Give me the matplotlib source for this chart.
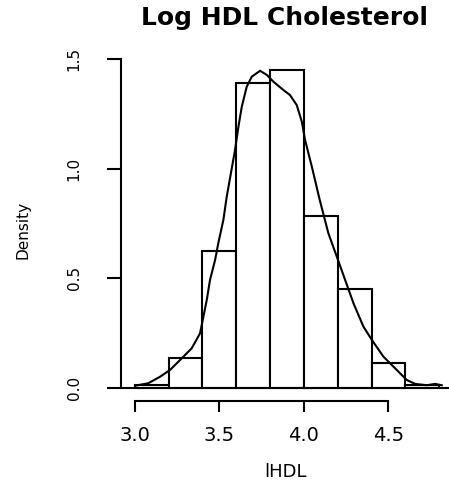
import numpy as np
import matplotlib
matplotlib.use("Agg")
import matplotlib.pyplot as plt

# histogram of log HDL (density scale), bins of width 0.2
bin_edges = [3.0, 3.2, 3.4, 3.6, 3.8, 4.0, 4.2, 4.4, 4.6, 4.8]
bin_density = [0.012, 0.134, 0.626, 1.393, 1.451, 0.783, 0.452, 0.114, 0.012]

# kernel density curve
kde_x = [3.002, 3.080, 3.150, 3.209, 3.278, 3.337, 3.386, 3.402, 3.426, 3.445,
         3.475, 3.494, 3.524, 3.544, 3.593, 3.613, 3.633, 3.662, 3.692, 3.741,
         3.781, 3.820, 3.879, 3.918, 3.958, 3.988, 4.007, 4.047, 4.094, 4.145,
         4.195, 4.244, 4.293, 4.352, 4.402, 4.470, 4.549, 4.608, 4.658, 4.727,
         4.776, 4.815]
kde_y = [0.009, 0.020, 0.050, 0.081, 0.134, 0.180, 0.248, 0.309, 0.401, 0.492,
         0.583, 0.660, 0.766, 0.873, 1.086, 1.192, 1.284, 1.375, 1.421, 1.448,
         1.429, 1.398, 1.360, 1.337, 1.291, 1.215, 1.132, 1.010, 0.857, 0.705,
         0.598, 0.492, 0.386, 0.279, 0.218, 0.142, 0.081, 0.035, 0.017, 0.011,
         0.017, 0.011]

x_ticks = [3.0, 3.5, 4.0, 4.5]
y_ticks = [0.0, 0.5, 1.0, 1.5]

fig = plt.figure(figsize=(4.49, 4.84), dpi=100)
ax = fig.add_axes([0.2688, 0.1715, 0.7312, 0.7103])

widths = np.diff(bin_edges)
ax.bar(bin_edges[:-1], bin_density, width=widths, align="edge",
       facecolor="white", edgecolor="black", linewidth=1.5)
ax.plot(kde_x, kde_y, color="black", linewidth=1.5)

ax.set_xlim(2.917, 4.858)
ax.set_ylim(-0.061, 1.51)
ax.axhline(0, color="black", linewidth=1.5)

for s in ["top", "right"]:
    ax.spines[s].set_visible(False)
ax.spines["left"].set_bounds(0, 1.5)
ax.spines["bottom"].set_bounds(3.0, 4.5)
ax.spines["left"].set_linewidth(1.5)
ax.spines["bottom"].set_linewidth(1.5)

ax.set_xticks(x_ticks)
ax.set_xticklabels(["%.1f" % v for v in x_ticks], fontsize=14)
ax.set_yticks(y_ticks)
ax.set_yticklabels(["%.1f" % v for v in y_ticks], fontsize=11, rotation=90,
                   va="center")
ax.tick_params(axis="x", length=8, width=1.5, pad=10)
ax.tick_params(axis="y", length=10, width=1.5, pad=18)

fig.text(0.634, 0.963, "Log HDL Cholesterol", fontsize=18, fontweight="bold",
         ha="center", va="center")
fig.text(0.635, 0.025, "lHDL", fontsize=13, ha="center", va="center")
fig.text(0.051, 0.525, "Density", fontsize=11, rotation=90,
         ha="center", va="center")

fig.savefig("out.png", dpi=100)
